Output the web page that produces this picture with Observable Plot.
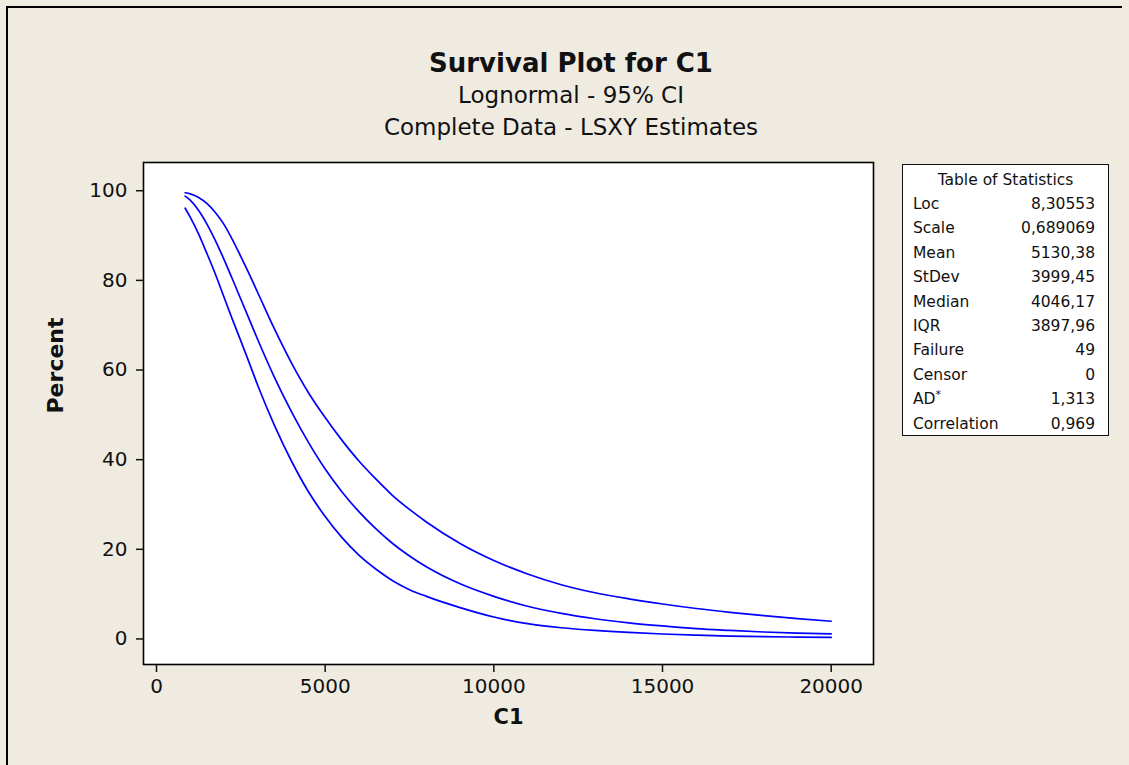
<!DOCTYPE html>
<html><head><meta charset="utf-8">
<script src="https://cdn.jsdelivr.net/npm/d3@7"></script>
<script src="https://cdn.jsdelivr.net/npm/@observablehq/plot@0.6"></script>
<style>
html,body{margin:0;padding:0;background:#efebe1;}
#page{position:relative;width:1129px;height:765px;overflow:hidden;background:#efebe1;font-family:"DejaVu Sans",sans-serif;color:#111;}
#border{position:absolute;left:6px;top:6px;width:1114px;height:800px;border-left:2px solid #000;border-top:2px solid #000;}
.t{position:absolute;left:0;width:1142px;text-align:center;line-height:1;white-space:nowrap;}
#title{top:50px;font-size:26px;font-weight:bold;}
#sub1{top:84px;font-size:23px;}
#sub2{top:116px;font-size:23px;}
#chart{position:absolute;left:0;top:150px;}
#stats{position:absolute;left:902px;top:164px;width:207px;height:272px;background:#fff;border:1.5px solid #111;box-sizing:border-box;font-size:15.5px;padding-top:3px;}
#stats .hdr{text-align:center;line-height:24px;height:24px;}
#stats .row{display:flex;justify-content:space-between;line-height:24.4px;height:24.4px;padding:0 13px 0 10px;}
#stats sup{font-size:11px;line-height:0;}
</style>
</head><body>
<div id="page">
  <div id="border"></div>
  <div class="t" id="title">Survival Plot for C1</div>
  <div class="t" id="sub1">Lognormal - 95% CI</div>
  <div class="t" id="sub2">Complete Data - LSXY Estimates</div>
  <div id="chart"></div>
  <div id="stats"></div>
</div>
<script>
// x values (C1) at which the curves were read
const xs = [850,1000,1250,1500,1750,2000,2250,2500,2750,3000,3500,4000,4500,5000,5500,6000,6500,7000,7500,8000,9000,10000,11000,12000,13000,14000,15000,16000,17000,18000,19000,20000];
// survival percent: upper 95% bound, fitted lognormal, lower 95% bound
const upper = [99.55,99.3,98.5,97.1,95.1,92.5,89.1,85.3,81.4,77.3,69.1,61.6,55.0,49.4,44.3,39.7,35.7,32.0,28.9,26.1,21.3,17.5,14.5,12.1,10.3,8.95,7.8,6.8,5.95,5.2,4.55,3.95];
const fit   = [98.8,97.9,95.6,92.5,88.8,84.7,80.3,75.8,71.3,66.8,58.3,50.7,43.9,37.9,32.8,28.4,24.6,21.3,18.5,16.1,12.3,9.5,7.3,5.7,4.5,3.6,2.9,2.3,1.9,1.55,1.3,1.15];
const lower = [96.1,94.1,90.3,85.9,81.3,76.3,71.3,66.5,61.6,56.6,47.6,39.7,32.9,27.3,22.6,18.7,15.6,13.0,11.0,9.5,7.0,4.9,3.4,2.5,1.9,1.45,1.1,0.85,0.65,0.5,0.42,0.35];

const xTicks = [0,5000,10000,15000,20000];
const yTicks = [0,20,40,60,80,100];

const statLabels = ["Loc","Scale","Mean","StDev","Median","IQR","Failure","Censor","AD*","Correlation"];
const statValues = ["8,30553","0,689069","5130,38","3999,45","4046,17","3897,96","49","0","1,313","0,969"];

const seriesNames = ["upper","fit","lower"];
const seriesVals = [upper, fit, lower];
const rows = [];
seriesNames.forEach((s, i) => xs.forEach((x, j) => rows.push({series: s, x, p: seriesVals[i][j]})));

const chart = Plot.plot({
  width: 1129,
  height: 615,
  marginLeft: 143,
  marginRight: 256,
  marginTop: 12,
  marginBottom: 101,
  style: {background: "transparent", fontFamily: "DejaVu Sans, sans-serif", fontSize: "20px", color: "#111", overflow: "visible"},
  x: {domain: [-385, 21254]},
  y: {domain: [-5.7, 106.3]},
  marks: [
    Plot.frame({fill: "#ffffff", stroke: "#000", strokeWidth: 1.6}),
    Plot.line(rows, {x: "x", y: "p", z: "series", stroke: "#0000ff", strokeWidth: 1.7, curve: "monotone-x"}),
    Plot.axisX({ticks: xTicks, tickSize: 8, tickPadding: 6, tickFormat: "d", label: null, fontSize: 20, strokeWidth: 1.5}),
    Plot.axisY({ticks: yTicks, tickSize: 7, tickPadding: 9, tickFormat: "d", label: null, fontSize: 20, strokeWidth: 1.5}),
    Plot.text(["Percent"], {text: d => d, frameAnchor: "left", dx: -88, rotate: -90, fontWeight: "bold", fontSize: 22}),
    Plot.text(["C1"], {text: d => d, frameAnchor: "bottom", dy: 59, fontWeight: "bold", fontSize: 21})
  ]
});
document.getElementById("chart").appendChild(chart);

const stats = document.getElementById("stats");
const hdr = document.createElement("div");
hdr.className = "hdr";
hdr.textContent = "Table of Statistics";
stats.appendChild(hdr);
statLabels.forEach((lab, i) => {
  const r = document.createElement("div");
  r.className = "row";
  const a = document.createElement("span");
  if (lab.endsWith("*")) {
    a.textContent = lab.slice(0, -1);
    const sup = document.createElement("sup");
    sup.textContent = "*";
    a.appendChild(sup);
  } else a.textContent = lab;
  const b = document.createElement("span");
  b.textContent = statValues[i];
  r.appendChild(a); r.appendChild(b);
  stats.appendChild(r);
});
</script>
</body></html>
